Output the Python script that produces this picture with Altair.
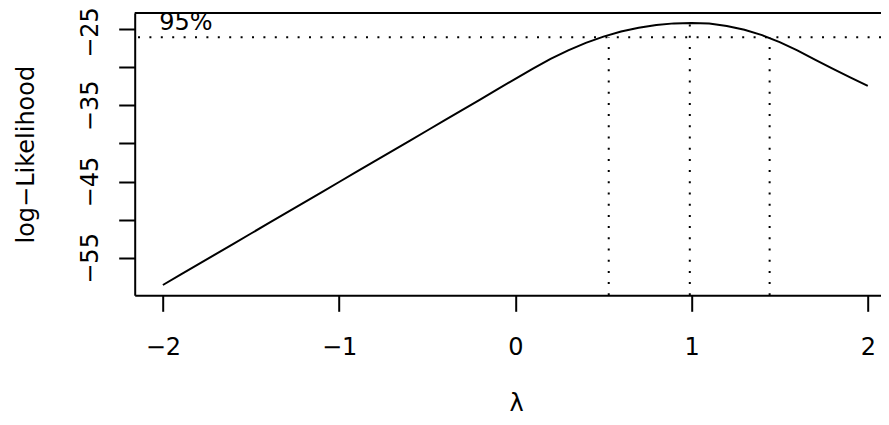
import altair as alt
import pandas as pd

# ---- data (Box-Cox profile log-likelihood) ----
lam = [-2.0, -1.9, -1.8, -1.7, -1.6, -1.5, -1.4, -1.3, -1.2, -1.1,
       -1.0, -0.9, -0.8, -0.7, -0.6, -0.5, -0.4, -0.3, -0.2, -0.1,
       0.0, 0.1, 0.2, 0.3, 0.4, 0.5, 0.6, 0.7, 0.8, 0.9,
       1.0, 1.1, 1.2, 1.3, 1.4, 1.5, 1.6, 1.7, 1.8, 1.9, 2.0]
loglik = [-58.55, -57.2, -55.85, -54.5, -53.15, -51.8, -50.45, -49.1, -47.75, -46.4,
          -45.05, -43.7, -42.35, -41.0, -39.65, -38.3, -36.95, -35.6, -34.25, -32.88,
          -31.53, -30.2, -28.92, -27.79, -26.82, -26.0, -25.33, -24.82, -24.46, -24.26,
          -24.2, -24.29, -24.6, -25.1, -25.8, -26.72, -27.8, -29.0, -30.2, -31.35, -32.46]

ci_level = [-26.08]                 # 95% threshold (max - 1.92)
v_lam = [0.53, 0.99, 1.443]         # CI bounds and the maximum
v_top = [-26.08, -24.2, -26.08]
v_bottom = [-59.9, -59.9, -59.9]    # lower edge of the plot region

label_x = [-1.87]
label_y = [-25.07]
label_text = ["95%"]

x_ticks = [-2, -1, 0, 1, 2]
y_ticks = [-55, -50, -45, -40, -35, -30, -25]
x_domain = [-2.16, 2.075]           # right part of the panel lies outside the picture
y_domain = [-59.9, -22.9]
box_top = [-22.9]

FONT = "DejaVu Sans"

curve_df = pd.DataFrame({"lam": lam, "ll": loglik})
hline_df = pd.DataFrame({"y": ci_level})
top_df = pd.DataFrame({"y": box_top})
vline_df = pd.DataFrame({"x": v_lam, "y": v_bottom, "y2": v_top})
text_df = pd.DataFrame({"x": label_x, "y": label_y, "t": label_text})

xscale = alt.Scale(domain=x_domain, nice=False, zero=False)
yscale = alt.Scale(domain=y_domain, nice=False, zero=False)

xaxis = alt.Axis(
    values=x_ticks, title="λ", grid=False,
    domain=True, domainColor="black", domainWidth=2,
    tickSize=16, tickWidth=2, tickColor="black",
    labelExpr="replace(toString(datum.value), '-', '−')",
    labelFont=FONT, labelFontSize=24, labelColor="black",
    labelBaseline="alphabetic", labelPadding=42.7,
    labelFlush=False, labelOverlap=False, labelBound=False,
    titleFont=FONT, titleFontSize=24, titleFontWeight="normal", titleColor="black",
    titleAlign="center", titleBaseline="alphabetic", titleX=381.3, titleY=115.5,
)
yaxis = alt.Axis(
    values=y_ticks, title="log−Likelihood", grid=False,
    domain=True, domainColor="black", domainWidth=2,
    tickSize=16, tickWidth=2, tickColor="black",
    labelExpr="abs(datum.value) % 10 == 5 ? replace(toString(datum.value), '-', '−') : ''",
    labelFont=FONT, labelFontSize=24, labelColor="black",
    labelAngle=270, labelAlign="center", labelBaseline="alphabetic",
    labelOffset={"condition": {"test": "datum.value == -25", "value": 3}, "value": 0},
    labelPadding=21.5, labelFlush=False, labelOverlap=False, labelBound=False,
    titleFont=FONT, titleFontSize=24, titleFontWeight="normal", titleColor="black",
    titleAngle=270, titleAlign="center", titleBaseline="alphabetic",
    titleX=-101.7, titleY=141.15,
)

curve = alt.Chart(curve_df).mark_line(color="black", strokeWidth=2).encode(
    x=alt.X("lam:Q", scale=xscale, axis=xaxis),
    y=alt.Y("ll:Q", scale=yscale, axis=yaxis),
)

top_edge = alt.Chart(top_df).mark_rule(color="black", strokeWidth=2).encode(
    y=alt.Y("y:Q", scale=yscale)
)

hline = alt.Chart(hline_df).mark_rule(
    color="black", strokeWidth=2, strokeDash=[2, 9.4]
).encode(y=alt.Y("y:Q", scale=yscale))

vlines = alt.Chart(vline_df).mark_rule(
    color="black", strokeWidth=2, strokeDash=[2, 9.2]
).encode(
    x=alt.X("x:Q", scale=xscale),
    y=alt.Y("y:Q", scale=yscale),
    y2="y2:Q",
)

label = alt.Chart(text_df).mark_text(
    font=FONT, fontSize=24, color="black", align="center", baseline="alphabetic"
).encode(
    x=alt.X("x:Q", scale=xscale),
    y=alt.Y("y:Q", scale=yscale),
    text="t:N",
)

chart = alt.layer(curve, top_edge, hline, vlines, label).properties(
    width=746.3,
    height=282.3,
    autosize=alt.AutoSizeParams(type="none"),
    padding={"left": 126.7, "top": 5, "right": 0, "bottom": 121.7},
    title=alt.TitleParams(
        text="Box-Cox transformation", frame="group", anchor="middle",
        baseline="alphabetic", offset=1, dx=8.6, font=FONT, fontSize=28.8,
        fontWeight="normal", color="black",
    ),
).configure(
    background="white",
    view=alt.ViewConfig(stroke="transparent"),
)

chart.save("out.html", embed_options={"renderer": "svg", "actions": False})
